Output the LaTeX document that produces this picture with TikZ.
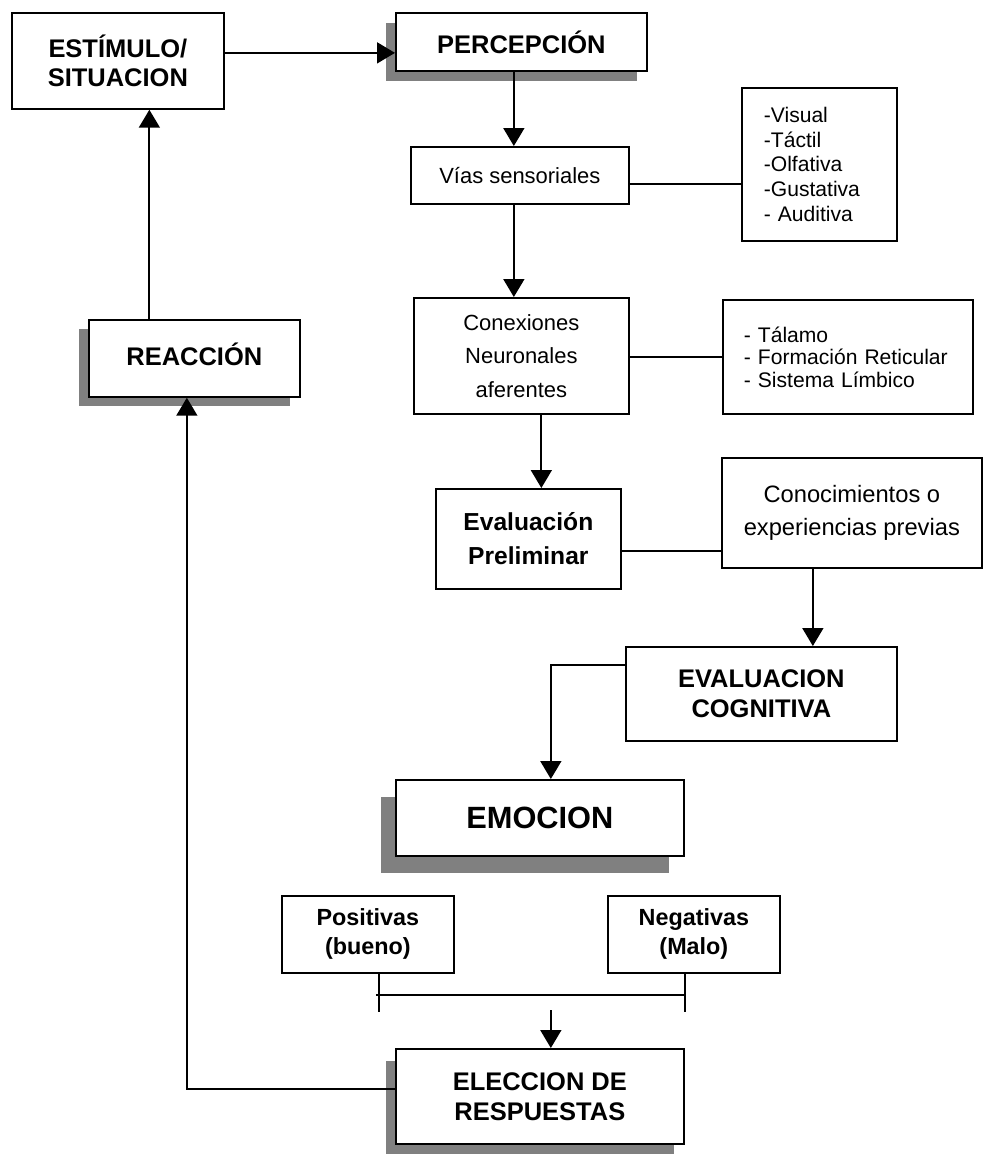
\documentclass[tikz,border=0pt]{standalone}
\usepackage{fontspec}
\setmainfont{Liberation Sans}
\usetikzlibrary{arrows.meta,shadows}

\begin{document}
\begin{tikzpicture}[x=0.02cm, y=-0.02cm,
    box/.style={draw, fill=white, line width=1pt, anchor=north west,
                align=center, inner sep=0pt},
    hdr/.style={box, font=\fontsize{14.5}{17}\selectfont\bfseries},
    sub/.style={box, font=\fontsize{13.3}{16.5}\selectfont\bfseries},
    txt/.style={box, font=\fontsize{12.5}{19}\selectfont},
    lst/.style={box, align=left, font=\fontsize{12}{14}\selectfont},
    shd/.style 2 args={drop shadow={shadow xshift=#1, shadow yshift=#2,
                opacity=1, fill=black!50}},
    arr/.style={-{Triangle[length=0.36cm, width=0.42cm]}, line width=1pt},
    lnk/.style={line width=1pt}
  ]
  \useasboundingbox (0,0) rectangle (983,1154);

  % upper row
  \node[hdr, minimum width=4.24cm, minimum height=1.92cm] (estim) at (11,12) {ESTÍMULO/\\ SITUACION};
  \node[hdr, shd={-0.2cm}{-0.2cm}, minimum width=5.02cm, minimum height=1.16cm] (percep) at (395,12) {PERCEPCIÓN};

  % right column
  \node[txt, minimum width=4.36cm, minimum height=1.14cm] (vias) at (410,146) {Vías sensoriales};
  \node[lst, text width=2.22cm, inner xsep=0.44cm, minimum height=3.06cm] (sens) at (741,87)
    {-Visual\\ -Táctil\\ -Olfativa\\ -Gustativa\\ - Auditiva};
  \node[txt, minimum width=4.30cm, minimum height=2.32cm] (conex) at (413,297) {Conexiones\\ Neuronales\\ aferentes};
  \node[lst, font=\fontsize{12}{12.8}\selectfont, text width=4.16cm, inner xsep=0.42cm,
        minimum height=2.28cm] (talamo) at (722,299)
    {- Tálamo\\ - Formación Reticular\\ - Sistema Límbico};
  \node[sub, font=\fontsize{14}{19.5}\selectfont\bfseries, minimum width=3.70cm, minimum height=2.00cm] (evpre) at (435,488) {Evaluación\\ Preliminar};
  \node[txt, font=\fontsize{13.5}{19}\selectfont, minimum width=5.20cm, minimum height=2.20cm] (conoc) at (721,457) {Conocimientos o\\ experiencias previas};
  \node[hdr, minimum width=5.42cm, minimum height=1.88cm] (evcog) at (625,646) {EVALUACION\\ COGNITIVA};
  \node[box, shd={-0.3cm}{-0.34cm}, font=\fontsize{17.5}{20}\selectfont\bfseries,
        minimum width=5.76cm, minimum height=1.52cm] (emoc) at (395,779) {EMOCION};

  % emotions
  \node[sub, minimum width=3.44cm, minimum height=1.54cm] (posit) at (281,895) {Positivas\\ (bueno)};
  \node[sub, minimum width=3.44cm, minimum height=1.54cm] (negat) at (607,895) {Negativas\\ (Malo)};
  \node[hdr, shd={-0.2cm}{-0.24cm}, minimum width=5.76cm, minimum height=1.90cm] (elec) at (395,1048) {ELECCION DE\\ RESPUESTAS};

  % left column
  \node[hdr, shd={-0.2cm}{-0.18cm}, minimum width=4.22cm, minimum height=1.54cm] (reac) at (88,319) {\raisebox{0.18cm}{REACCIÓN}};

  % connectors
  \coordinate (a1) at ([yshift=0.16cm]estim.east);
  \draw[arr] (a1) -- (a1 -| percep.west);
  \coordinate (a2) at ([xshift=-0.15cm]percep.south);
  \draw[arr] (a2) -- (a2 |- vias.north);
  \coordinate (a3) at ([yshift=-0.17cm]vias.east);
  \draw[lnk] (a3) -- (a3 -| sens.west);
  \coordinate (a4) at ([xshift=-0.12cm]vias.south);
  \draw[arr] (a4) -- (a4 |- conex.north);
  \coordinate (a5) at ([yshift=-0.03cm]conex.east);
  \draw[lnk] (a5) -- (a5 -| talamo.west);
  \coordinate (a6) at ([xshift=0.4cm]conex.south);
  \draw[arr] (a6) -- (a6 |- evpre.north);
  \coordinate (a7) at ([yshift=-0.24cm]evpre.east);
  \draw[lnk] (a7) -- (a7 -| conoc.west);
  \coordinate (a8) at ([xshift=-0.78cm]conoc.south);
  \draw[arr] (a8) -- (a8 |- evcog.north);
  \coordinate (a9) at ([yshift=0.58cm]evcog.west);
  \coordinate (a10) at ([xshift=0.22cm]emoc.north);
  \draw[arr] (a9) -| (a10);

  % bracket
  \coordinate (b1) at ([xshift=0.22cm]posit.south);
  \coordinate (b2) at ([xshift=-0.18cm]negat.south);
  \draw[lnk] (b1) -- ++(0,38);
  \draw[lnk] (b2) -- ++(0,38);
  \draw[lnk] ([xshift=-0.06cm,yshift=-0.42cm]b1) -- ([yshift=-0.42cm]b2);
  \coordinate (b3) at ([xshift=0.22cm,yshift=0.76cm]elec.north);
  \draw[arr] (b3) -- (b3 |- elec.north);

  % feedback loop
  \coordinate (c1) at ([yshift=0.15cm]elec.west);
  \coordinate (c2) at ([xshift=-0.15cm]reac.south);
  \draw[arr] (c1) -| (c2);
  \coordinate (c3) at ([xshift=-0.9cm]reac.north);
  \draw[arr] (c3) -- (c3 |- estim.south);
\end{tikzpicture}
\end{document}
